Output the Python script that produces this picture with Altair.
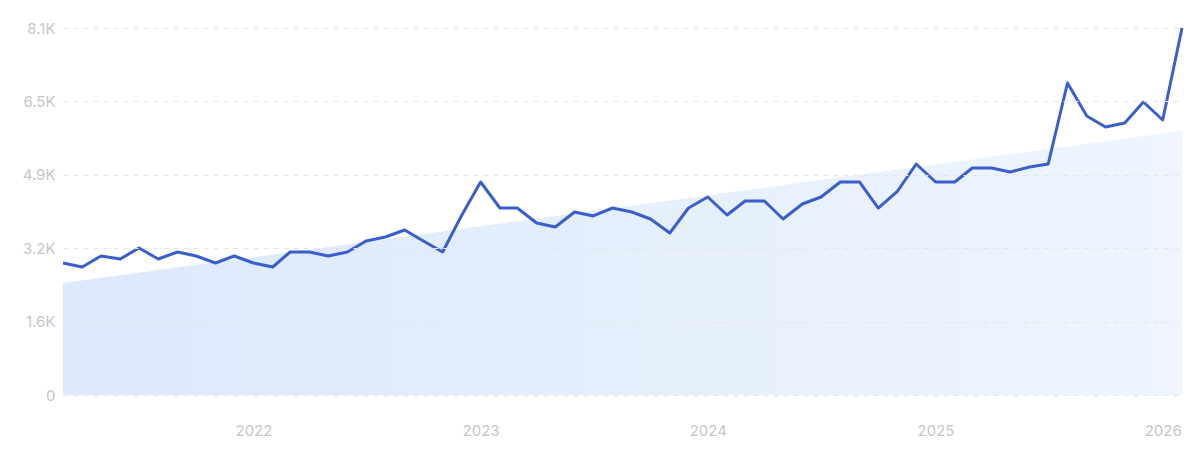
import altair as alt
import pandas as pd

# monthly values, Mar 2021 .. Feb 2026
months = pd.date_range("2021-03-01", "2026-02-01", freq="MS").strftime("%Y-%m-%d").tolist()
values = [
    2913, 2825, 3068, 3002, 3244, 3002, 3156, 3068, 2913, 3068,
    2913, 2825, 3156, 3156, 3068, 3156, 3399, 3487, 3642, 3399,
    3156, 3951, 4701, 4127, 4127, 3796, 3708, 4039, 3951, 4127,
    4039, 3884, 3575, 4127, 4370, 3973, 4282, 4282, 3884, 4215,
    4370, 4701, 4701, 4127, 4502, 5098, 4701, 4701, 5010, 5010,
    4922, 5032, 5098, 6886, 6158, 5915, 6003, 6467, 6069, 8100,
]

# trend band: first and last month only
trend_dates = ["2021-03-01", "2026-02-01"]
trend_values = [2470, 5830]

y_ticks = [0, 1620, 3240, 4860, 6480, 8100]
x_ticks = ["2022-01-01", "2023-01-01", "2024-01-01", "2025-01-01", "2026-01-01"]

series = pd.DataFrame({"month": months, "value": values})
trend = pd.DataFrame({"month": trend_dates, "value": trend_values})

x_scale = alt.Scale(domain=["2021-03-01", "2026-02-01"])
y_scale = alt.Scale(domain=[0, 8100], nice=False)

x_axis = alt.Axis(
    values=[pd.Timestamp(d).value // 10**6 for d in x_ticks],
    format="%Y",
    formatType="time",
    title=None,
    grid=False,
    domain=False,
    ticks=False,
    labelPadding=28,
    labelFontSize=15,
    labelColor="#c6c6c6",
    labelFont="Inter",
)
y_axis = alt.Axis(
    values=y_ticks,
    labelExpr="datum.value == 0 ? '0' : format(datum.value / 1000, '.1f') + 'K'",
    title=None,
    domain=False,
    ticks=False,
    labelPadding=8,
    labelFontSize=15,
    labelColor="#c6c6c6",
    labelFont="Inter",
    gridColor="#e3e5e8",
    gridDash=[5, 5],
    gridWidth=1,
    zindex=1,
)

band = alt.Chart(trend).mark_area(
    color=alt.Gradient(
        gradient="linear",
        stops=[
            alt.GradientStop(color="#dbe9fb", offset=0),
            alt.GradientStop(color="#eef5fe", offset=1),
        ],
        x1=0, x2=1, y1=0, y2=0,
    ),
).encode(
    x=alt.X("month:T", scale=x_scale, axis=x_axis),
    y=alt.Y("value:Q", scale=y_scale, axis=y_axis),
)

line = alt.Chart(series).mark_line(color="#3a5fcd", strokeWidth=3, strokeJoin="round").encode(
    x=alt.X("month:T", scale=x_scale),
    y=alt.Y("value:Q", scale=y_scale),
)

chart = (
    alt.layer(band, line)
    .properties(
        width=1119,
        height=367,
        autosize=alt.AutoSizeParams(type="none"),
        padding={"left": 55, "top": 20, "right": 10, "bottom": 52},
    )
    .configure(background="white", view=alt.ViewConfig(stroke=None, strokeWidth=0))
)

chart.save("out.html", embed_options={"renderer": "svg", "actions": False})
